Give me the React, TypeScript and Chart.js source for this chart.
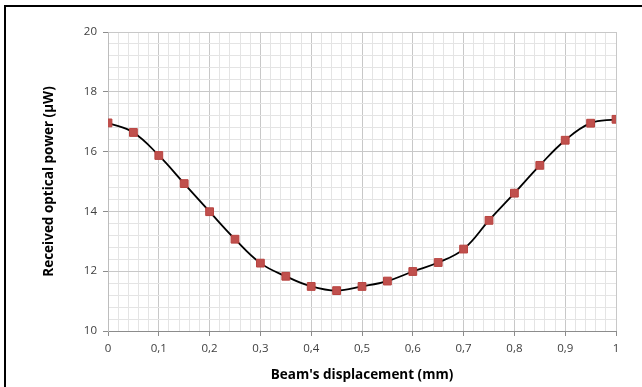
import React, { useEffect, useRef } from "react";
import { Chart, registerables } from "chart.js";

Chart.register(...registerables);

const displacement = [0, 0.05, 0.1, 0.15, 0.2, 0.25, 0.3, 0.35, 0.4, 0.45, 0.5, 0.55, 0.6, 0.65, 0.7, 0.75, 0.8, 0.85, 0.9, 0.95, 1.0];
const power = [16.96, 16.64, 15.87, 14.93, 13.99, 13.07, 12.27, 11.83, 11.49, 11.35, 11.49, 11.67, 11.99, 12.29, 12.74, 13.7, 14.61, 15.54, 16.38, 16.95, 17.08];

const xMin = 0, xMax = 1, xMinorStep = 0.02, xMajorStep = 0.1;
const yMin = 10, yMax = 20, yMinorStep = 0.4, yMajorStep = 2;

const xTitle = "Beam's displacement (mm)";
const yTitle = "Received optical power (\u00b5W)";

const FONT = "'Open Sans', 'Liberation Sans', sans-serif";

function isMajor(v: number, step: number) {
  const r = v / step;
  return Math.abs(r - Math.round(r)) < 1e-6;
}

function fmt(v: number) {
  const r = Math.round(v * 10) / 10;
  return String(r).replace(".", ",");
}

export default function App() {
  const ref = useRef<HTMLCanvasElement | null>(null);
  useEffect(() => {
    if (!ref.current) return;
    const points = displacement.map((x, i) => ({ x, y: power[i] }));
    const chart = new Chart(ref.current, {
      type: "line",
      data: {
        datasets: [
          {
            data: points,
            borderColor: "#000000",
            borderWidth: 1.8,
            tension: 0.4,
            pointStyle: "rect",
            pointRadius: 5.5,
            pointBackgroundColor: "#c0504d",
            pointBorderColor: "#b8433f",
            pointBorderWidth: 1,
            fill: false,
          },
        ],
      },
      options: {
        responsive: false,
        animation: false,
        layout: { padding: { left: 0, right: 26, top: 32, bottom: 0 } },
        plugins: { legend: { display: false }, tooltip: { enabled: false } },
        scales: {
          x: {
            type: "linear",
            min: xMin,
            max: xMax,
            afterBuildTicks: (scale: any) => {
              const t = [];
              const n = Math.round((xMax - xMin) / xMinorStep);
              for (let i = 0; i <= n; i++) t.push({ value: +(xMin + i * xMinorStep).toFixed(4) });
              scale.ticks = t;
            },
            afterFit: (scale: any) => {
              scale.height = 56;
            },
            ticks: {
              autoSkip: false,
              maxRotation: 0,
              padding: 6,
              color: "#404040",
              font: { family: FONT, size: 11.5 },
              callback: (v: any) => (isMajor(Number(v), xMajorStep) ? fmt(Number(v)) : ""),
            },
            grid: {
              color: (c: any) => (c.tick && isMajor(c.tick.value, xMajorStep) ? "#c8c8c8" : "#e4e4e4"),
              tickColor: (c: any) => (c.tick && isMajor(c.tick.value, xMajorStep) ? "#8c8c8c" : "rgba(0,0,0,0)"),
              tickLength: 5,
              lineWidth: 1,
            },
            border: { color: "#8c8c8c", width: 1 },
            title: {
              display: true,
              text: xTitle,
              color: "#000000",
              font: { family: FONT, size: 13.5, weight: "bold" },
              padding: { top: 0, bottom: 4 },
            },
          },
          y: {
            type: "linear",
            min: yMin,
            max: yMax,
            afterBuildTicks: (scale: any) => {
              const t = [];
              const n = Math.round((yMax - yMin) / yMinorStep);
              for (let i = 0; i <= n; i++) t.push({ value: +(yMin + i * yMinorStep).toFixed(4) });
              scale.ticks = t;
            },
            afterFit: (scale: any) => {
              scale.width = 108;
            },
            ticks: {
              autoSkip: false,
              padding: 6,
              color: "#404040",
              font: { family: FONT, size: 11.5 },
              callback: (v: any) => (isMajor(Number(v), yMajorStep) ? String(Math.round(Number(v))) : ""),
            },
            grid: {
              color: (c: any) => (c.tick && isMajor(c.tick.value, yMajorStep) ? "#c8c8c8" : "#e4e4e4"),
              tickColor: (c: any) => (c.tick && isMajor(c.tick.value, yMajorStep) ? "#8c8c8c" : "rgba(0,0,0,0)"),
              tickLength: 5,
              lineWidth: 1,
            },
            border: { color: "#bdbdbd", width: 1 },
            title: {
              display: true,
              text: yTitle,
              color: "#000000",
              font: { family: FONT, size: 13.5, weight: "bold" },
              padding: { top: 41, bottom: 0 },
            },
          },
        },
      },
    } as any);
    return () => chart.destroy();
  }, []);

  return (
    <div style={{ position: "absolute", left: 0, top: 0, width: 642, height: 387, background: "#ffffff" }}>
      <canvas ref={ref} width={642} height={387} style={{ position: "absolute", left: 0, top: 0 }} />
      <div
        style={{
          position: "absolute",
          left: 4,
          top: 5,
          width: 638,
          height: 382,
          borderTop: "2px solid #000",
          borderLeft: "2px solid #000",
          boxSizing: "border-box",
          pointerEvents: "none",
        }}
      />
    </div>
  );
}
